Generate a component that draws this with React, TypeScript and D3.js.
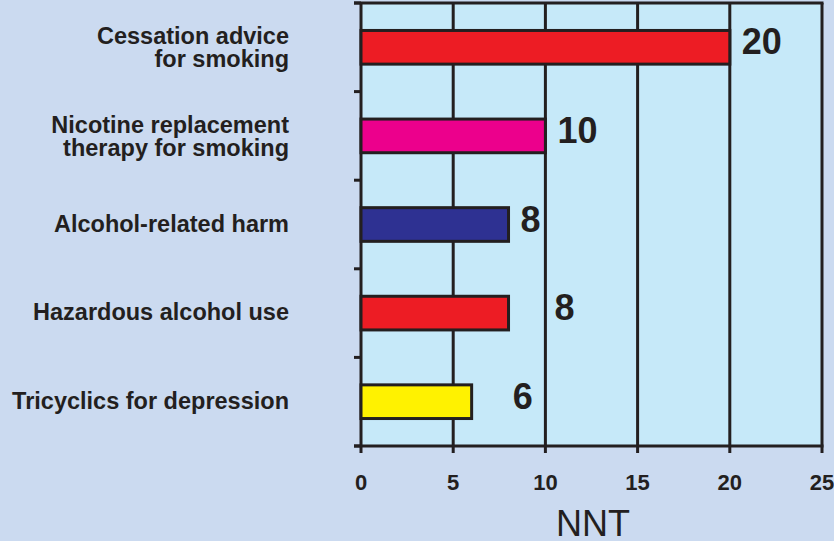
import React from 'react'
import * as d3 from 'd3'

// NNT per intervention (bars top to bottom)
const categories = [
    ['Cessation advice', 'for smoking'],
    ['Nicotine replacement', 'therapy for smoking'],
    ['Alcohol-related harm'],
    ['Hazardous alcohol use'],
    ['Tricyclics for depression'],
]
const nntValues = [20, 10, 8, 8, 6]
const xTicks = [0, 5, 10, 15, 20, 25]
const axisTitle = 'NNT'

// styling, kept apart from the data
const barColors = ['#ed1c24', '#ec008c', '#2e3192', '#ed1c24', '#fff200']
const valueLabelDx = [12, 12, 12, 46, 41]
const INK = '#231f20'
const BG = '#cbdaf0'
const PLOT_BG = '#c6e9f9'
const FONT = '"Liberation Sans", Arial, Helvetica, sans-serif'

const W = 834, H = 541
const plot = { left: 361, right: 822, top: 3, bottom: 446 }

const App = () => {
    const x = d3.scaleLinear().domain([0, 25]).range([plot.left, plot.right])
    const ids = categories.map((c, i) => String(i))
    const y = d3.scaleBand<string>()
        .domain(ids)
        .range([plot.top, plot.bottom])
        .paddingInner(0.62)
        .paddingOuter(0.31)
    const step = y.step()
    const bandCenter = (i: number) => plot.top + step * (i + 0.5)
    const bandEdges = d3.range(categories.length + 1).map(i => plot.top + step * i)

    return (
        <svg width={W} height={H} style={{ position: 'absolute', left: 0, top: 0, display: 'block' }}
             fontFamily={FONT}>
            <rect x={0} y={0} width={W} height={H} fill={BG} />
            <rect x={plot.left} y={plot.top} width={plot.right - plot.left}
                  height={plot.bottom - plot.top} fill={PLOT_BG} />

            {/* vertical grid lines */}
            {xTicks.map(t => (
                <line key={'g' + t} x1={x(t)} x2={x(t)} y1={plot.top} y2={plot.bottom}
                      stroke={INK} strokeWidth={3} />
            ))}

            {/* frame */}
            <line x1={plot.left - 7} x2={plot.right + 1.5} y1={plot.top} y2={plot.top}
                  stroke={INK} strokeWidth={3} />
            <line x1={plot.left - 7} x2={plot.right + 1.5} y1={plot.bottom} y2={plot.bottom}
                  stroke={INK} strokeWidth={3} />

            {/* left ticks */}
            {bandEdges.map((e, i) => (
                <line key={'lt' + i} x1={plot.left - 7} x2={plot.left} y1={e} y2={e}
                      stroke={INK} strokeWidth={3} />
            ))}

            {/* bottom ticks + labels */}
            {xTicks.map(t => (
                <g key={'xt' + t}>
                    <line x1={x(t)} x2={x(t)} y1={plot.bottom} y2={plot.bottom + 7}
                          stroke={INK} strokeWidth={3} />
                    <text x={x(t)} y={490} textAnchor="middle" fontWeight="bold"
                          fontSize={22} fill={INK}>{t}</text>
                </g>
            ))}

            {/* bars */}
            {nntValues.map((v, i) => (
                <rect key={'b' + i} x={x(0)} y={y(ids[i])} width={x(v) - x(0)}
                      height={y.bandwidth()} fill={barColors[i]} stroke={INK} strokeWidth={3} />
            ))}

            {/* value labels */}
            {nntValues.map((v, i) => (
                <text key={'v' + i} x={x(v) + valueLabelDx[i]} y={bandCenter(i) + 7}
                      fontWeight="bold" fontSize={36} fill={INK}>{v}</text>
            ))}

            {/* category labels */}
            {categories.map((lines, i) => {
                const c = bandCenter(i)
                const base = lines.length > 1 ? c - 3 : c + 7
                return (
                    <text key={'c' + i} x={289} textAnchor="end" fontWeight="bold"
                          fontSize={23.5} fill={INK}>
                        {lines.map((l, j) => (
                            <tspan key={j} x={289} y={base + j * 23}>{l}</tspan>
                        ))}
                    </text>
                )
            })}

            <text x={593} y={536} textAnchor="middle" fontSize={36} fill={INK}>{axisTitle}</text>
        </svg>
    )
}

export default App
